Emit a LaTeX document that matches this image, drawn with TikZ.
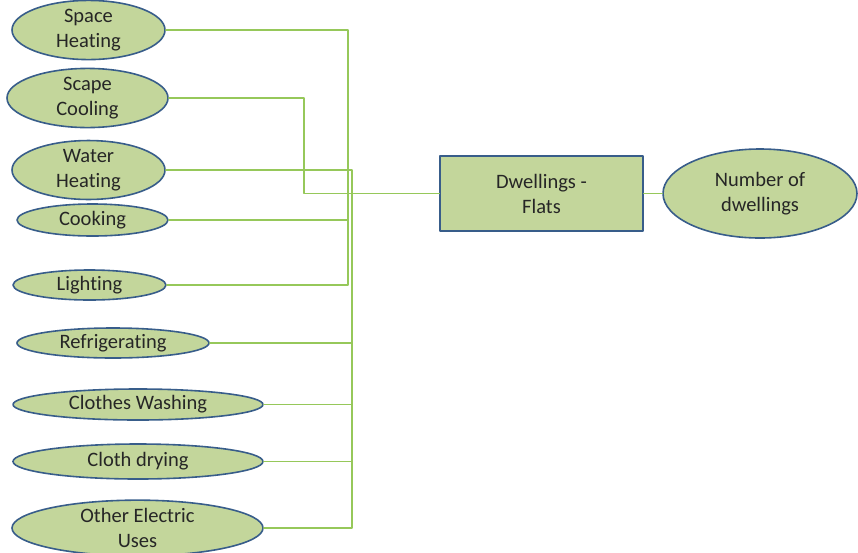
\documentclass[tikz,border=0pt]{standalone}
\usepackage{fontspec}
\setmainfont[Ligatures=NoCommon]{Carlito}
\usetikzlibrary{shapes.geometric}
\definecolor{leafgreen}{RGB}{195,214,155}
\definecolor{rimblue}{RGB}{56,93,138}
\definecolor{wiregreen}{RGB}{150,200,90}
\tikzset{
every picture/.append style={
    line join=round,
    line cap=round
  },
enduse/.style={ellipse, draw=rimblue, fill=leafgreen, line width=1.6pt,
    inner sep=0pt, align=center, text=black!85,
    font=\fontsize{20.5}{25}\selectfont},
hubbox/.style={rectangle, draw=rimblue, fill=leafgreen, line width=1.6pt,
    inner sep=0pt, align=center, text=black!85,
    font=\fontsize{20.5}{25}\selectfont},
wire/.style={draw=wiregreen, line width=1.3pt}
}

\begin{document}
\begin{tikzpicture}[x=1pt,y=-1pt]
        \useasboundingbox (0,0) rectangle (858,552);

        % end uses
        \node [enduse, minimum width=153, minimum height=56] (spaceheat) at (88.5,30) {Space\\Heating};
        \node [enduse, minimum width=161, minimum height=56] (scapecool) at (87.5,98) {Scape\\Cooling};
        \node [enduse, minimum width=153, minimum height=48] (waterheat) at (88.5,170) {Water\\Heating};
        \node [enduse, minimum width=151, minimum height=32] (cooking) at (92.5,220) {Cooking};
        \node [enduse, minimum width=153, minimum height=30] (lighting) at (89.5,285) {Lighting};
        \node [enduse, minimum width=192, minimum height=30] (fridge) at (113,343) {Refrigerating};
        \node [enduse, minimum width=250, minimum height=31] (washing) at (138,404.5) {Clothes Washing};
        \node [enduse, minimum width=250, minimum height=35] (drying) at (138,461.5) {Cloth drying};
        \node [enduse, minimum width=251, minimum height=52] (otheruse) at (137.5,528) {Other Electric\\Uses};

        % centre
        \node [hubbox, minimum width=203, minimum height=75] (flats) at (541.5,193.5) {Dwellings -\\Flats};
        \node [enduse, minimum width=194, minimum height=89] (count) at (760,193.5) {Number of\\dwellings};

        % bus lines
        \coordinate (busa) at (348,0);
        \coordinate (busb) at (304,0);
        \coordinate (busc) at (352,0);

        \draw [wire] (spaceheat.east) -| (busa |- flats.west) -- (flats.west);
        \draw [wire] (scapecool.east) -| (busb |- flats.west) -- (flats.west);
        \draw [wire] (waterheat.east) -| (busc |- flats.west) -- (flats.west);
        \draw [wire] (cooking.east) -| (busa |- flats.west);
        \draw [wire] (lighting.east) -| (busa |- flats.west);
        \draw [wire] (fridge.east) -| (busc |- flats.west);
        \draw [wire] (washing.east) -| (busc |- flats.west);
        \draw [wire] (drying.east) -| (busc |- flats.west);
        \draw [wire] (otheruse.east) -| (busc |- flats.west);

        \draw [wire] (flats.east) -- (count.west);
    \end{tikzpicture}
\end{document}
